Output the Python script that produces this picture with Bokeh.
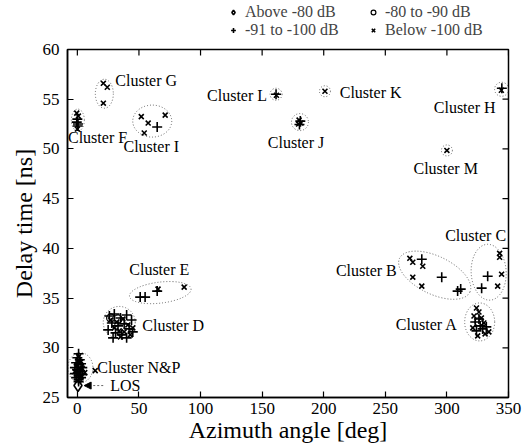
import math
from bokeh.plotting import figure
from bokeh.layouts import column
from bokeh.models import (Label, Legend, LegendItem, FixedTicker,
                          Arrow, NormalHead, Range1d)
from bokeh.embed import file_html
from bokeh.resources import INLINE

FONT = "Liberation Serif"

# ---------------- data (azimuth deg, delay ns) ----------------
above_x = [0.5]
above_y = [26.2]

c8090_x = [2.0, 27.0, 33.0, 326.0]
c8090_y = [28.2, 33.0, 32.9, 32.6]

plus_x = [1, 0, 2, -1, 3, 1, -2, 4, 0, 2, -2, 4, 1, -1, 3, 1, 1,
          26, 30, 35, 40, 44, 28, 33, 38, 42, 25, 31, 36, 40, 45, 29,
          323, 327, 329, 324, 332, 326,
          279.6, 295.8, 308.7, 311.2,
          333.1, 328.2,
          51, 55, 64.8,
          0, 0.5, -0.5, 0.3,
          344.6, 64.8, 181, 180.3, 161.3]
plus_y = [29.4, 29.0, 28.8, 28.5, 28.4, 28.3, 28.0, 28.0, 27.8, 27.6, 27.4, 27.3, 27.2, 27.0, 27.0, 26.8, 26.6,
          33.2, 33.4, 33.0, 33.3, 32.8, 32.5, 32.2, 32.4, 31.9, 31.8, 31.5, 31.3, 31.0, 31.6, 31.0,
          32.6, 32.2, 31.9, 31.7, 32.1, 32.9,
          38.9, 37.1, 35.7, 35.9,
          37.2, 36.0,
          35.1, 35.1, 35.7,
          53.0, 52.5, 52.7, 52.3,
          56.1, 52.2, 52.8, 52.45, 55.5]

xm_x = [1, 3, 0, 4, 2, -2, 6, 1, 3, 14.5,
        27, 32, 37, 41, 34, 38, 43, 30, 35, 45,
        324, 326, 322, 328, 330, 321, 334, 325, 331,
        269.9, 272.3, 280.4, 272.3, 279.6,
        342.8, 342.8, 344.4, 341.2,
        86.7, 65.5,
        -0.5, 0.8, 0.0,
        21.1, 24.3, 21.1,
        344.2,
        51.9, 57.5, 54.3, 71.3,
        180.0, 181.5, 179.6,
        201.0, 161.6, 300.0]
xm_y = [29.1, 28.6, 28.2, 27.9, 27.9, 27.6, 27.5, 27.3, 27.1, 27.7,
        32.8, 32.6, 32.9, 32.3, 31.7, 31.6, 31.3, 32.0, 31.1, 32.0,
        34.0, 33.6, 33.2, 33.0, 32.5, 32.0, 31.6, 31.2, 31.4,
        39.0, 38.6, 38.2, 37.1, 36.2,
        39.5, 39.1, 37.4, 36.2,
        36.1, 35.9,
        53.6, 53.3, 52.0,
        56.6, 56.2, 54.6,
        55.9,
        53.25, 52.6, 51.6, 53.4,
        52.9, 52.6, 52.5,
        55.8, 55.4, 49.85]

series_x = [above_x, c8090_x, plus_x, xm_x]
series_y = [above_y, c8090_y, plus_y, xm_y]
legend_labels = ["Above -80 dB", "-80 to -90 dB", "-91 to -100 dB", "Below -100 dB"]

# cluster outlines: centre, width/height (px), tilt (rad)
ell_x = [2.5, 34.0, 67.3, 326.6, 290.1, 333.9, 0.4, 21.9, 60.8, 180.7, 161.3, 201.0, 344.4, 300.0]
ell_y = [28.0, 32.55, 35.55, 32.6, 37.3, 37.6, 52.9, 55.55, 52.8, 52.7, 55.5, 55.8, 56.0, 49.85]
ell_w = [25, 32, 62, 30, 78, 35, 13, 18, 39, 17, 12, 11, 14, 11]
ell_h = [30, 32, 21, 38, 38, 56, 22, 29, 32, 17, 12, 11, 14, 11]
ell_a = [0, 0, 0.12, 0, -0.45, 0.05, 0, 0, 0, 0, 0, 0, 0, 0]

lab_text = ["Cluster A", "Cluster B", "Cluster C", "Cluster D", "Cluster E", "Cluster F",
            "Cluster G", "Cluster H", "Cluster I", "Cluster J",
            "Cluster K", "Cluster L", "Cluster M", "Cluster N&P", "LOS"]
lab_x = [308.7, 259.3, 323.3, 52.7, 66.5, -7.6, 30.8, 314.4, 60.0, 177.5, 213.0, 154.0, 299.0, 16.2, 26.7]
lab_y = [32.35, 37.75, 41.3, 32.25, 37.9, 51.1, 56.9, 54.2, 50.25, 50.65, 55.7, 55.4, 48.05, 28.0, 26.2]
lab_align = ["right", "right", "center", "left", "center", "left", "left", "center",
             "center", "center", "left", "right", "center", "left", "left"]

x_ticks = [0, 50, 100, 150, 200, 250, 300, 350]
y_ticks = [25, 30, 35, 40, 45, 50, 55, 60]
x_lo, x_hi = -8, 350
y_lo, y_hi = 25, 60

MARKERS = [dict(marker="diamond", size=12, fill_alpha=0, line_color="black", line_width=1.6),
           dict(marker="circle", size=8, fill_alpha=0, line_color="black", line_width=1.2),
           dict(marker="cross", size=10, line_color="black", line_width=1.6),
           dict(marker="x", size=7, line_color="black", line_width=1.6)]

# ---------------- legend strip (above the plot) ----------------
# its view range lies far from the data, so only the legend swatches show
lf = figure(width=527, height=40, x_range=Range1d(1000, 1001), y_range=Range1d(1000, 1001),
            output_backend="svg", toolbar_location=None,
            x_axis_location=None, y_axis_location=None, min_border=0)
lf.xgrid.visible = False
lf.ygrid.visible = False
lf.outline_line_color = None
items = []
for lbl, st, sx, sy in zip(legend_labels, MARKERS, series_x, series_y):
    r = lf.scatter(x=sx[:1], y=sy[:1], **st)
    items.append(LegendItem(label=lbl, renderers=[r]))
lf.add_layout(Legend(items=items, orientation="horizontal", ncols=2,
                     location=(160, 1), label_text_font=FONT, label_text_font_size="16px",
                     label_height=18, glyph_height=16, glyph_width=12, label_standoff=6,
                     label_width=122, spacing=0, padding=0, margin=0,
                     border_line_alpha=0, background_fill_alpha=0))

# ---------------- main figure ----------------
p = figure(width=527, height=407, x_range=Range1d(x_lo, x_hi), y_range=Range1d(y_lo, y_hi),
           output_backend="svg", toolbar_location=None,
           min_border_left=67, min_border_right=19, min_border_top=9, min_border_bottom=50)
p.xgrid.visible = False
p.ygrid.visible = False
p.outline_line_color = "black"
p.outline_line_width = 1.5
p.background_fill_color = "white"

p.ellipse(ell_x, ell_y, width=ell_w, height=ell_h, angle=ell_a,
          width_units="screen", height_units="screen",
          fill_alpha=0, line_color="#555555", line_width=0.9, line_dash="1 2")

for st, sx, sy in zip(MARKERS, series_x, series_y):
    p.scatter(sx, sy, **st)

# inward ticks on the top and right frame edges
p.ray(x=x_ticks, y=[y_hi] * len(x_ticks), length=6, angle=-math.pi / 2,
      length_units="screen", line_color="black", line_width=1.2)
p.ray(x=[x_hi] * len(y_ticks), y=y_ticks, length=6, angle=math.pi,
      length_units="screen", line_color="black", line_width=1.2)

for t, x, y, a in zip(lab_text, lab_x, lab_y, lab_align):
    p.add_layout(Label(x=x, y=y, text=t, text_font=FONT, text_font_size="16px",
                       text_align=a, text_baseline="middle", text_color="black"))

p.add_layout(Arrow(end=NormalHead(size=7, fill_color="black", line_color="black", line_width=1),
                   x_start=21, y_start=26.2, x_end=5.5, y_end=26.2,
                   line_color="#555555", line_width=0.9, line_dash="2 2"))

def style_axis(ax, ticks):
    ax.ticker = FixedTicker(ticks=ticks)
    ax.major_tick_in = 6
    ax.major_tick_out = 0
    ax.minor_tick_in = 0
    ax.minor_tick_out = 0
    ax.axis_line_width = 1.5
    ax.major_tick_line_width = 1.2
    ax.major_label_text_font = FONT
    ax.major_label_text_color = "black"
    ax.major_label_text_font_size = "17px"
    ax.axis_label_text_font = FONT
    ax.axis_label_text_font_size = "24px"
    ax.axis_label_text_font_style = "normal"
    ax.axis_label_text_color = "black"

style_axis(p.xaxis[0], x_ticks)
style_axis(p.yaxis[0], y_ticks)
p.xaxis[0].axis_label = "Azimuth angle [deg]"
p.yaxis[0].axis_label = "Delay time [ns]"
p.xaxis[0].major_label_standoff = 5
p.xaxis[0].axis_label_standoff = 0
p.yaxis[0].major_label_standoff = 8
p.yaxis[0].axis_label_standoff = 3

layout = column(lf, p, spacing=0)
open("out.html", "w").write(file_html(layout, INLINE))
